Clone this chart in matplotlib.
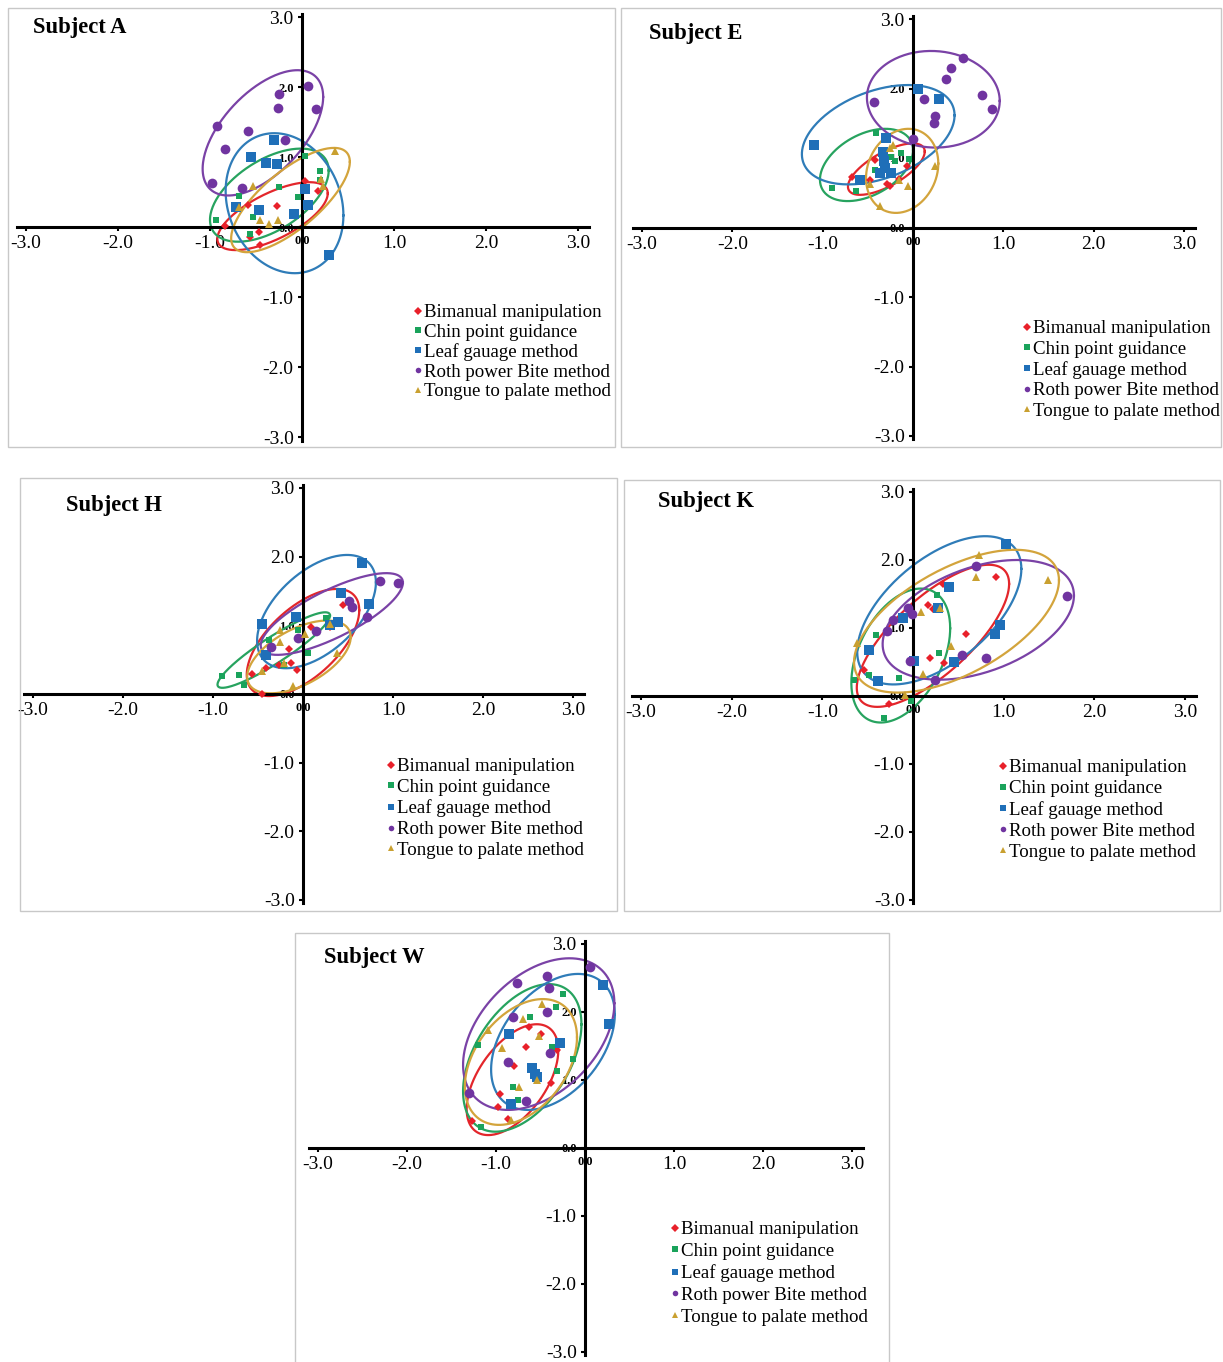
import numpy as np
import matplotlib
matplotlib.use("Agg")
import matplotlib.pyplot as plt
from matplotlib.patches import Rectangle
from matplotlib.lines import Line2D

plt.rcParams["font.family"] = ["Liberation Serif", "DejaVu Serif"]

# Method names (legend order)
methods = ["Bimanual manipulation", "Chin point guidance", "Leaf gauage method",
           "Roth power Bite method", "Tongue to palate method"]

# --- Subject A ---
a_bim_x = [0.03, 0.17, -0.27, -0.59, -0.84, -0.47, -0.46, -0.57]
a_bim_y = [0.66, 0.51, 0.30, 0.32, 0.01, -0.07, -0.25, -0.14]
a_chin_x = [0.03, 0.20, 0.20, -0.25, -0.04, -0.53, -0.93, -0.56, -0.68]
a_chin_y = [1.02, 0.80, 0.67, 0.57, 0.43, 0.14, 0.10, -0.10, 0.45]
a_leaf_x = [-0.30, -0.55, -0.39, -0.27, 0.03, 0.06, -0.09, -0.47, -0.72, 0.29]
a_leaf_y = [1.24, 1.00, 0.91, 0.90, 0.55, 0.31, 0.18, 0.25, 0.29, -0.40]
a_roth_x = [0.06, -0.25, -0.26, 0.15, -0.92, -0.59, -0.84, -0.18, -0.98, -0.65]
a_roth_y = [2.02, 1.90, 1.70, 1.69, 1.44, 1.37, 1.12, 1.25, 0.63, 0.56]
a_tong_x = [0.36, 0.21, 0.23, -0.53, -0.68, -0.46, -0.36, -0.26]
a_tong_y = [1.09, 0.69, 0.58, 0.58, 0.29, 0.10, 0.05, 0.10]
# ellipses per method: centre x, centre y, half-width x, half-height y, phase (deg)
a_ellipses = [[-0.32, 0.155, 0.60, 0.485, 48],
              [-0.355, 0.455, 0.645, 0.665, 58],
              [-0.19, 0.34, 0.64, 1.00, 100],
              [-0.425, 1.345, 0.655, 0.895, 55],
              [-0.125, 0.385, 0.645, 0.745, 43]]

# --- Subject E ---
e_bim_x = [-0.42, -0.68, -0.29, -0.26, -0.07, -0.48, -0.15]
e_bim_y = [0.97, 0.73, 0.62, 0.60, 0.88, 0.69, 0.70]
e_chin_x = [-0.41, -0.90, -0.63, -0.24, -0.04, -0.13, -0.42, -0.20]
e_chin_y = [1.36, 0.57, 0.52, 1.02, 0.99, 1.07, 0.83, 0.95]
e_leaf_x = [0.06, 0.29, -1.10, -0.30, -0.33, -0.32, -0.31, -0.24, -0.37, -0.59]
e_leaf_y = [1.99, 1.85, 1.18, 1.29, 1.09, 0.95, 0.85, 0.78, 0.78, 0.69]
e_roth_x = [0.55, 0.42, 0.36, 0.12, 0.76, 0.88, 0.24, 0.23, -0.43, 0.00]
e_roth_y = [2.44, 2.30, 2.13, 1.85, 1.91, 1.71, 1.61, 1.50, 1.80, 1.28]
e_tong_x = [0.24, -0.37, -0.15, -0.26, -0.48, -0.05, -0.22]
e_tong_y = [0.88, 0.31, 0.69, 1.14, 0.62, 0.60, 1.18]
e_ellipses = [[-0.295, 0.84, 0.425, 0.37, 47],
              [-0.515, 0.90, 0.515, 0.52, 66],
              [-0.385, 1.335, 0.845, 0.715, 67],
              [0.225, 1.845, 0.735, 0.695, 92],
              [-0.12, 0.815, 0.40, 0.605, 80]]

# --- Subject H ---
h_bim_x = [0.09, -0.16, -0.27, -0.13, -0.07, -0.41, -0.57, -0.45, 0.45, 0.30]
h_bim_y = [0.97, 0.66, 0.42, 0.45, 0.35, 0.38, 0.29, 0.00, 1.30, 0.98]
h_chin_x = [-0.90, -0.71, -0.66, -0.38, -0.05, 0.26, 0.06, -0.21]
h_chin_y = [0.26, 0.28, 0.13, 0.78, 0.93, 1.10, 0.59, 0.42]
h_leaf_x = [0.66, 0.73, 0.42, -0.45, -0.08, 0.39, 0.30, -0.41]
h_leaf_y = [1.91, 1.31, 1.47, 1.02, 1.12, 1.05, 1.00, 0.57]
h_roth_x = [0.86, 1.06, 0.51, 0.54, 0.71, 0.14, -0.06, -0.36]
h_roth_y = [1.64, 1.61, 1.36, 1.27, 1.12, 0.92, 0.81, 0.69]
h_tong_x = [-0.26, -0.25, 0.02, 0.30, 0.38, -0.21, -0.46, -0.11]
h_tong_y = [0.93, 0.76, 0.87, 1.02, 0.60, 0.45, 0.33, 0.11]
h_ellipses = [[0.0, 0.75, 0.625, 0.78, 53],
              [-0.325, 0.64, 0.625, 0.55, 24],
              [0.15, 1.20, 0.66, 0.825, 59],
              [0.32, 1.165, 0.79, 0.595, 40],
              [-0.045, 0.54, 0.575, 0.53, 57]]

# --- Subject K ---
k_bim_x = [0.33, 0.91, 0.16, 0.59, 0.19, 0.34, -0.54, -0.26, 0.22]
k_bim_y = [1.64, 1.75, 1.34, 0.91, 0.56, 0.49, 0.38, -0.12, 1.28]
k_chin_x = [0.26, -0.41, 0.29, -0.15, -0.65, -0.49, -0.32, -0.02]
k_chin_y = [1.49, 0.90, 0.63, 0.26, 0.23, 0.31, -0.33, -0.07]
k_leaf_x = [1.03, 0.40, 0.28, -0.11, 0.96, 0.90, 0.01, 0.45, -0.49, -0.39]
k_leaf_y = [2.23, 1.61, 1.29, 1.14, 1.05, 0.91, 0.51, 0.50, 0.68, 0.22]
k_roth_x = [0.70, 1.70, -0.06, -0.01, -0.22, -0.29, 0.54, 0.80, -0.03, 0.24]
k_roth_y = [1.91, 1.47, 1.30, 1.20, 1.12, 0.95, 0.61, 0.56, 0.51, 0.24]
k_tong_x = [0.73, 0.70, 1.49, 0.30, 0.09, -0.62, 0.42, 0.11, -0.09]
k_tong_y = [2.07, 1.75, 1.70, 1.29, 1.24, 0.78, 0.73, 0.33, 0.02]
k_ellipses = [[0.22, 0.885, 0.84, 1.045, 43],
              [-0.135, 0.595, 0.545, 0.985, 66],
              [0.29, 1.26, 0.905, 1.09, 56],
              [0.72, 1.12, 1.055, 0.88, 66],
              [0.48, 1.10, 1.13, 1.05, 55]]

# --- Subject W ---
w_bim_x = [-0.63, -0.66, -0.50, -0.80, -0.31, -0.38, -0.95, -0.98, -0.87, -1.27]
w_bim_y = [1.78, 1.48, 1.67, 1.21, 1.44, 0.96, 0.80, 0.60, 0.43, 0.39]
w_chin_x = [-0.25, -0.33, -0.62, -1.20, -0.37, -0.13, -0.31, -0.81, -0.75, -1.17]
w_chin_y = [2.27, 2.07, 1.93, 1.51, 1.48, 1.31, 1.13, 0.89, 0.70, 0.31]
w_leaf_x = [0.20, 0.27, -0.28, -0.85, -0.59, -0.56, -0.83, -0.54]
w_leaf_y = [2.39, 1.82, 1.54, 1.67, 1.17, 1.09, 0.65, 1.05]
w_roth_x = [0.06, -0.43, -0.76, -0.41, -0.43, -0.81, -0.39, -0.87, -1.30, -0.66]
w_roth_y = [2.66, 2.53, 2.42, 2.36, 2.00, 1.93, 1.39, 1.26, 0.81, 0.69]
w_tong_x = [-0.48, -0.70, -1.09, -0.52, -0.93, -0.74, -0.54, -0.83]
w_tong_y = [2.12, 1.89, 1.74, 1.64, 1.47, 0.90, 1.00, 0.41]
w_ellipses = [[-0.815, 1.005, 0.515, 0.815, 58],
              [-0.705, 1.325, 0.665, 1.085, 63],
              [-0.36, 1.56, 0.695, 1.00, 66],
              [-0.52, 1.675, 0.85, 1.115, 66],
              [-0.72, 1.265, 0.63, 0.925, 67]]

ticks = [-3, -2, -1, 0, 1, 2, 3]
tick_labels = ["-3.0", "-2.0", "-1.0", "0.0", "1.0", "2.0", "3.0"]

# marker style per method: marker, colour, size, ellipse colour
styles = [
    ("D", "#e8202a", 4.5, "#e3262b"),
    ("s", "#1aa35b", 4.5, "#27a35f"),
    ("s", "#1f6fb8", 7.5, "#2f7cb8"),
    ("o", "#7034a0", 7.0, "#7a42a6"),
    ("^", "#c9a030", 5.5, "#d3a43c"),
]

W, H = 1223, 1362
fig = plt.figure(figsize=(W / 100, H / 100), dpi=100)

t = np.linspace(0, 2 * np.pi, 240)


def draw_ellipse(ax, params, color):
    cx, cy, rx, ry, phase = params
    ex = cx + rx * np.cos(t)
    ey = cy + ry * np.cos(t - np.radians(phase))
    ax.plot(ex, ey, color=color, linewidth=1.6, zorder=2)


def px_rect(x0, y0, x1, y1):
    return [x0 / W, 1 - y1 / H, (x1 - x0) / W, (y1 - y0) / H]


# panel: title, data, ellipses, frame box, axis pixel mapping, title pos, legend pos, small y labels
panels = [
    ("Subject A",
     [(a_bim_x, a_bim_y), (a_chin_x, a_chin_y), (a_leaf_x, a_leaf_y), (a_roth_x, a_roth_y), (a_tong_x, a_tong_y)],
     a_ellipses, (8, 8, 615, 447), (26, 578, 17, 437), (33, 28), (414, 304, 0.125), [0, 1, 2]),
    ("Subject E",
     [(e_bim_x, e_bim_y), (e_chin_x, e_chin_y), (e_leaf_x, e_leaf_y), (e_roth_x, e_roth_y), (e_tong_x, e_tong_y)],
     e_ellipses, (621, 8, 1221, 447), (642, 1184, 19, 436), (649, 34), (1023, 320, 0.175), [0, 1, 2]),
    ("Subject H",
     [(h_bim_x, h_bim_y), (h_chin_x, h_chin_y), (h_leaf_x, h_leaf_y), (h_roth_x, h_roth_y), (h_tong_x, h_tong_y)],
     h_ellipses, (20, 478, 617, 911), (33, 573, 488, 900), (66, 506), (387, 758, 0.187), [0, 1]),
    ("Subject K",
     [(k_bim_x, k_bim_y), (k_chin_x, k_chin_y), (k_leaf_x, k_leaf_y), (k_roth_x, k_roth_y), (k_tong_x, k_tong_y)],
     k_ellipses, (624, 480, 1220, 911), (641, 1185, 492, 900), (658, 502), (999, 759, 0.20), [0, 1]),
    ("Subject W",
     [(w_bim_x, w_bim_y), (w_chin_x, w_chin_y), (w_leaf_x, w_leaf_y), (w_roth_x, w_roth_y), (w_tong_x, w_tong_y)],
     w_ellipses, (295, 933, 889, 1370), (318, 852, 944, 1352), (324, 958), (671, 1221, 0.237), [0, 1, 2]),
]

xlim = (-3.1, 3.12)
ylim = (-3.05, 3.05)

for title, data, ells, box, amap, tpos, lpos, small_y in panels:
    # light grey frame around each panel
    fig.add_artist(Rectangle((box[0] / W, 1 - box[3] / H), (box[2] - box[0]) / W, (box[3] - box[1]) / H,
                             transform=fig.transFigure, fill=False, edgecolor="#c8c8c8", linewidth=1.0))

    xm3, x3, y3, ym3 = amap
    pxu = (x3 - xm3) / 6
    pyu = (ym3 - y3) / 6
    left = xm3 + (xlim[0] + 3) * pxu
    right = xm3 + (xlim[1] + 3) * pxu
    top = y3 - (ylim[1] - 3) * pyu
    bottom = ym3 + (-3 - ylim[0]) * pyu
    ax = fig.add_axes(px_rect(left, top, right, bottom))
    ax.set_xlim(*xlim)
    ax.set_ylim(*ylim)
    ax.patch.set_alpha(0)

    for sp in ["top", "right"]:
        ax.spines[sp].set_visible(False)
    ax.spines["left"].set_position(("data", 0))
    ax.spines["bottom"].set_position(("data", 0))
    ax.spines["left"].set_linewidth(2.2)
    ax.spines["bottom"].set_linewidth(2.2)

    ax.set_xticks(ticks)
    ax.set_xticklabels(tick_labels, fontsize=14)
    ax.set_yticks(ticks)
    ax.set_yticklabels(tick_labels, fontsize=14)
    ax.tick_params(direction="out", length=3, width=1.5, pad=3)
    ax.get_xticklabels()[3].set_fontsize(9)
    ax.get_xticklabels()[3].set_fontweight("bold")
    for v in small_y:
        lab = ax.get_yticklabels()[ticks.index(v)]
        lab.set_fontsize(9)
        lab.set_fontweight("bold")

    for (xs, ys), ell, (mk, col, ms, ecol) in zip(data, ells, styles):
        draw_ellipse(ax, ell, ecol)
        ax.plot(xs, ys, linestyle="none", marker=mk, color=col, markersize=ms,
                markeredgewidth=0, zorder=3)

    fig.text(tpos[0] / W, 1 - tpos[1] / H, title, fontsize=16.3, fontweight="bold",
             ha="left", va="center")

    handles = [Line2D([], [], linestyle="none", marker=mk, color=col, markersize=4,
                      markeredgewidth=0) for mk, col, ms, ecol in styles]
    fig.legend(handles, methods, loc="upper left",
               bbox_to_anchor=(lpos[0] / W, 1 - lpos[1] / H), frameon=False,
               fontsize=13.6, handlelength=0.4, handletextpad=0.15, borderpad=0,
               borderaxespad=0, labelspacing=lpos[2])

fig.savefig("out.png", dpi=100)
